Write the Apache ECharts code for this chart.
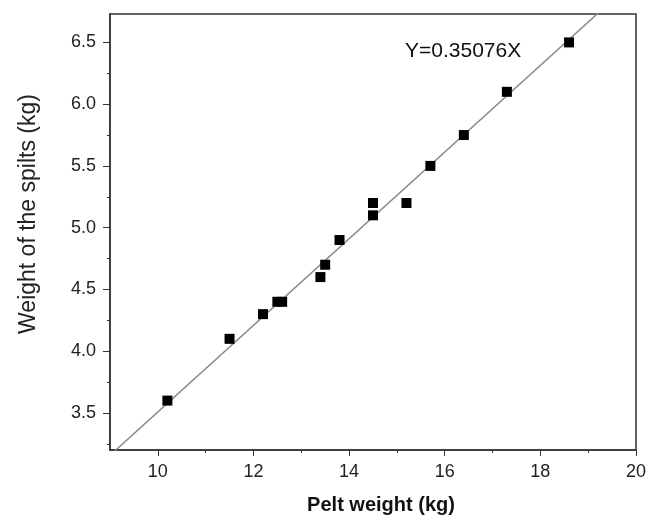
<!DOCTYPE html>
<html>
<head>
<meta charset="utf-8">
<script src="https://cdn.jsdelivr.net/npm/echarts@6/dist/echarts.min.js"></script>
<style>html,body{margin:0;padding:0;background:#fff}#c{width:646px;height:516px}</style>
</head>
<body>
<div id="c"></div>
<script>
const peltWeight = [10.2, 11.5, 12.2, 12.5, 12.6, 13.4, 13.5, 13.8, 14.5, 14.5, 15.2, 15.7, 16.4, 17.3, 18.6];
const splitsWeight = [3.6, 4.1, 4.3, 4.4, 4.4, 4.6, 4.7, 4.9, 5.1, 5.2, 5.2, 5.5, 5.75, 6.1, 6.5];
const slope = 0.35076;
const fitX = [9, 20];
const xTicks = [10, 12, 14, 16, 18, 20];
const xMinorTicks = [11, 13, 15, 17, 19];
const yTicks = [3.5, 4.0, 4.5, 5.0, 5.5, 6.0, 6.5];
const yMinorTicks = [3.25, 3.75, 4.25, 4.75, 5.25, 5.75, 6.25];
const equationText = 'Y=0.35076X';

const points = peltWeight.map((x, i) => [x, splitsWeight[i]]);
const fitLine = fitX.map(x => [x, slope * x]);

const font = '"Liberation Sans", Arial, sans-serif';
const axisColor = '#333';
const X_MIN = 9, X_MAX = 20, Y_MIN = 3.2, Y_MAX = 6.73;

const chart = echarts.init(document.getElementById('c'), null, {renderer: 'canvas'});
chart.setOption({
  animation: false,
  backgroundColor: '#fff',
  grid: {left: 110, right: 10, top: 14, bottom: 66, containLabel: false, outerBoundsMode: 'none',
    show: true, borderColor: axisColor, borderWidth: 1.5, backgroundColor: 'transparent'},
  xAxis: [{
    type: 'value', min: X_MIN, max: X_MAX,
    name: 'Pelt weight (kg)', nameLocation: 'middle', nameGap: 45,
    nameTextStyle: {fontFamily: font, fontSize: 20, fontWeight: 'bold', color: '#111', padding: [0, 0, 0, 16]},
    axisLine: {show: true, lineStyle: {color: axisColor, width: 1.5}},
    axisTick: {show: true, customValues: xTicks, length: 6, lineStyle: {color: axisColor, width: 1}},
    axisLabel: {customValues: xTicks, fontFamily: font, fontSize: 18, color: '#222', margin: 13},
    splitLine: {show: false}
  }, {
    type: 'value', min: X_MIN, max: X_MAX, position: 'bottom',
    axisLine: {show: false},
    axisTick: {show: true, customValues: xMinorTicks, length: 3, lineStyle: {color: axisColor, width: 1}},
    axisLabel: {show: false},
    splitLine: {show: false}
  }],
  yAxis: [{
    type: 'value', min: Y_MIN, max: Y_MAX,
    name: 'Weight of the spilts (kg)', nameLocation: 'middle', nameGap: 70, nameRotate: 90,
    nameTextStyle: {fontFamily: font, fontSize: 23, color: '#222', padding: [0, 0, 0, 36]},
    axisLine: {show: true, lineStyle: {color: axisColor, width: 1.5}},
    axisTick: {show: true, customValues: yTicks, length: 7, lineStyle: {color: axisColor, width: 1}},
    axisLabel: {customValues: yTicks, fontFamily: font, fontSize: 18, color: '#222', margin: 14,
      formatter: v => v.toFixed(1)},
    splitLine: {show: false}
  }, {
    type: 'value', min: Y_MIN, max: Y_MAX, position: 'left',
    axisLine: {show: false},
    axisTick: {show: true, customValues: yMinorTicks, length: 3, lineStyle: {color: axisColor, width: 1}},
    axisLabel: {show: false},
    splitLine: {show: false}
  }],
  series: [{
    type: 'line', data: fitLine, showSymbol: false, clip: true,
    lineStyle: {color: '#8a8a8a', width: 1.5}, z: 2
  }, {
    type: 'scatter', data: points, symbol: 'rect', symbolSize: 10,
    itemStyle: {color: '#000', opacity: 1}, z: 3
  }],
  graphic: [{
    type: 'text', left: 405, top: 41,
    style: {text: equationText, fontFamily: font, fontSize: 21, fill: '#111'}
  }]
});
</script>
</body>
</html>
